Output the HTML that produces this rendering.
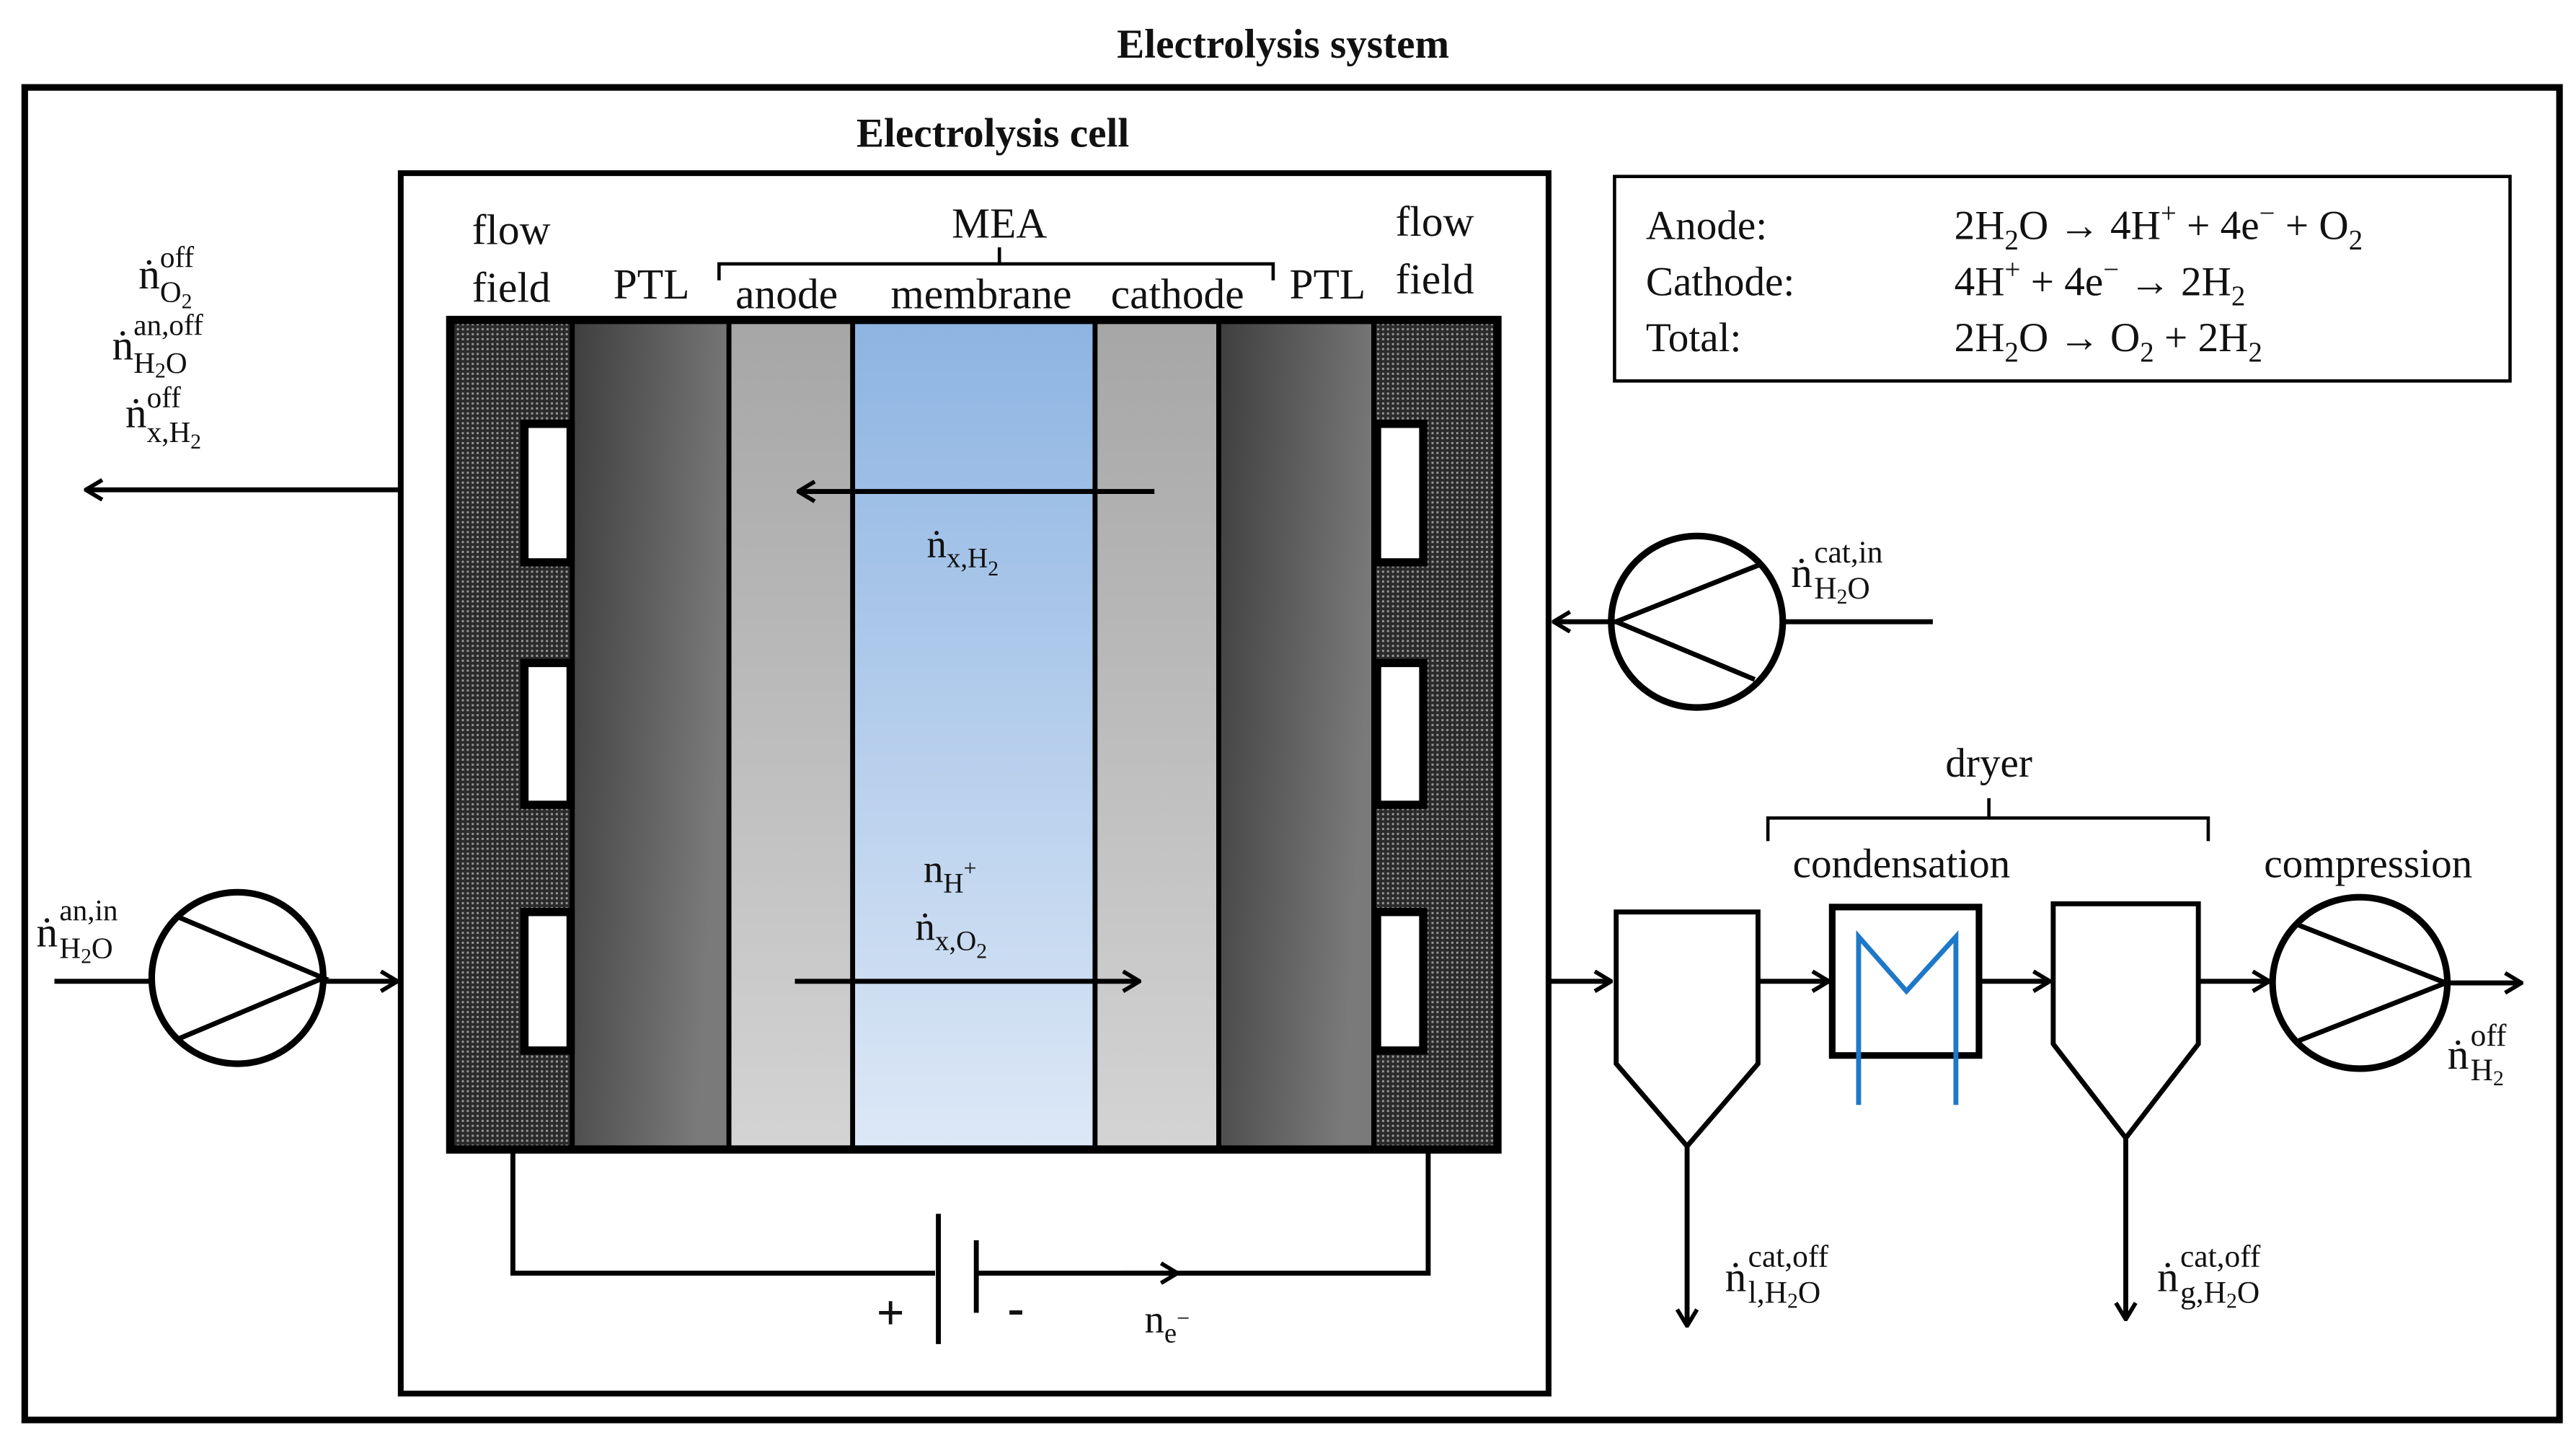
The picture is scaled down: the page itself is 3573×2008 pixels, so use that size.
<!DOCTYPE html>
<html><head><meta charset="utf-8"><style>html,body{margin:0;padding:0;background:#fff}svg{display:block}
text{font-family:"Liberation Serif",serif;fill:#111}</style></head><body>
<svg width="3573" height="2008" viewBox="0 0 1562 878" preserveAspectRatio="none" xmlns="http://www.w3.org/2000/svg">
<defs>
<pattern id="dots" width="3" height="3" patternUnits="userSpaceOnUse"><rect width="3" height="3" fill="#2a2a2a"/><rect x="1" y="1" width="1.3" height="1.3" fill="#999"/></pattern>
<linearGradient id="ptl" x1="0" y1="0" x2="1" y2="0.3"><stop offset="0" stop-color="#3e3e3e"/><stop offset="1" stop-color="#7a7a7a"/></linearGradient>
<linearGradient id="gry" x1="0" y1="0" x2="0" y2="1"><stop offset="0" stop-color="#a6a6a6"/><stop offset="1" stop-color="#d4d4d4"/></linearGradient>
<linearGradient id="blu" x1="0" y1="0" x2="0" y2="1"><stop offset="0" stop-color="#8db4e2"/><stop offset="1" stop-color="#dde8f6"/></linearGradient>
<marker id="ah" markerWidth="12" markerHeight="14" refX="11" refY="7" orient="auto" markerUnits="userSpaceOnUse"><path d="M1,1 L11,7 L1,13" fill="none" stroke="#000" stroke-width="2.5"/></marker>
</defs>
<text x="778" y="35" font-size="25" font-weight="bold" text-anchor="middle">Electrolysis system</text>
<rect x="15" y="53" width="1537" height="808" fill="none" stroke="#000" stroke-width="4"/>
<text x="602" y="89" font-size="25" font-weight="bold" text-anchor="middle">Electrolysis cell</text>
<rect x="243" y="105" width="696" height="740" fill="none" stroke="#000" stroke-width="3.5"/>
<!-- stack -->
<rect x="273" y="193" width="75" height="505" fill="url(#dots)"/>
<rect x="833" y="193" width="75" height="505" fill="url(#dots)"/>
<rect x="347" y="193" width="95" height="505" fill="url(#ptl)"/>
<rect x="739" y="193" width="94" height="505" fill="url(#ptl)"/>
<rect x="442" y="193" width="75" height="505" fill="url(#gry)"/>
<rect x="664" y="193" width="75" height="505" fill="url(#gry)"/>
<rect x="517" y="193" width="147" height="505" fill="url(#blu)"/>
<g fill="#fff" stroke="#000" stroke-width="5">
<rect x="318" y="257" width="28" height="84"/><rect x="318" y="402" width="28" height="86"/><rect x="318" y="553" width="28" height="84"/>
<rect x="835" y="257" width="28" height="84"/><rect x="835" y="402" width="28" height="86"/><rect x="835" y="553" width="28" height="84"/>
</g>
<g stroke="#000" stroke-width="3"><line x1="347" y1="193" x2="347" y2="698"/><line x1="442" y1="193" x2="442" y2="698"/><line x1="517" y1="193" x2="517" y2="698"/><line x1="664" y1="193" x2="664" y2="698"/><line x1="739" y1="193" x2="739" y2="698"/><line x1="833" y1="193" x2="833" y2="698"/></g>
<rect x="273" y="194" width="635" height="503" fill="none" stroke="#000" stroke-width="5"/>
<g font-size="26" text-anchor="middle">
<text x="310" y="148">flow</text><text x="310" y="183">field</text><text x="395" y="181">PTL</text>
<text x="606" y="144">MEA</text>
<text x="477" y="187">anode</text><text x="595" y="187">membrane</text><text x="714" y="187">cathode</text>
<text x="805" y="181">PTL</text><text x="870" y="143">flow</text><text x="870" y="178">field</text>
</g>
<path d="M436,170 L436,160 L606,160 L606,150 M606,160 L772,160 L772,170" fill="none" stroke="#000" stroke-width="2"/>
<!-- internal arrows -->
<line x1="700" y1="298" x2="484" y2="298" stroke="#000" stroke-width="3" marker-end="url(#ah)"/>
<text x="562" y="338" font-size="24">ṅ<tspan font-size="17" dy="6">x,H</tspan><tspan font-size="13" dy="5">2</tspan></text>
<line x1="482" y1="595" x2="691" y2="595" stroke="#000" stroke-width="3" marker-end="url(#ah)"/>
<text x="560" y="535" font-size="24">n<tspan font-size="17" dy="6">H</tspan><tspan font-size="14" dy="-10">+</tspan></text>
<text x="555" y="570" font-size="24">ṅ<tspan font-size="17" dy="6">x,O</tspan><tspan font-size="13" dy="5">2</tspan></text>
<!-- left outflow -->
<line x1="243" y1="297" x2="52" y2="297" stroke="#000" stroke-width="3" marker-end="url(#ah)"/>
<g font-size="26">
<text x="84" y="175">ṅ</text><text x="97" y="162" font-size="18">off</text><text x="97" y="183" font-size="18">O<tspan font-size="13" dy="4">2</tspan></text>
<text x="68" y="218">ṅ</text><text x="81" y="203" font-size="18">an,off</text><text x="81" y="226" font-size="18">H<tspan font-size="13" dy="3">2</tspan><tspan dy="-3">O</tspan></text>
<text x="76" y="259">ṅ</text><text x="89" y="247" font-size="18">off</text><text x="89" y="268" font-size="18">x,H<tspan font-size="13" dy="4">2</tspan></text>
</g>
<!-- left inlet pump -->
<line x1="33" y1="595" x2="92" y2="595" stroke="#000" stroke-width="3"/>
<ellipse cx="144" cy="593" rx="52" ry="52" fill="none" stroke="#000" stroke-width="4"/>
<path d="M108,556 L196,593 L108,630" fill="none" stroke="#000" stroke-width="3"/>
<line x1="196" y1="595" x2="241" y2="595" stroke="#000" stroke-width="3" marker-end="url(#ah)"/>
<text x="22" y="574" font-size="26">ṅ</text><text x="36" y="558" font-size="18">an,in</text><text x="36" y="581" font-size="18">H<tspan font-size="13" dy="3">2</tspan><tspan dy="-3">O</tspan></text>
<!-- circuit -->
<path d="M311,698 L311,772 L567,772 M592,772 L866,772 L866,698" fill="none" stroke="#000" stroke-width="3"/>
<line x1="680" y1="772" x2="714" y2="772" stroke="#000" stroke-width="3" marker-end="url(#ah)"/>
<line x1="569" y1="736" x2="569" y2="815" stroke="#000" stroke-width="3"/>
<line x1="592" y1="752" x2="592" y2="796" stroke="#000" stroke-width="3"/>
<text x="540" y="806" font-size="30" font-weight="bold" text-anchor="middle" font-family="Liberation Sans">+</text>
<text x="616" y="803" font-size="30" font-weight="bold" text-anchor="middle" font-family="Liberation Sans">-</text>
<text x="694" y="808" font-size="24">n<tspan font-size="17" dy="6">e</tspan><tspan font-size="14" dy="-10">−</tspan></text>
<!-- equations -->
<rect x="979" y="107" width="543" height="124" fill="none" stroke="#000" stroke-width="2"/>
<g font-size="25">
<text x="998" y="145">Anode:</text><text x="998" y="179">Cathode:</text><text x="998" y="213">Total:</text>
<text x="1185" y="145">2H<tspan font-size="17" dy="6">2</tspan><tspan dy="-6">O  → 4H</tspan><tspan font-size="17" dy="-10">+</tspan><tspan dy="10"> + 4e</tspan><tspan font-size="17" dy="-10">−</tspan><tspan dy="10"> + O</tspan><tspan font-size="17" dy="6">2</tspan></text>
<text x="1185" y="179">4H<tspan font-size="17" dy="-10">+</tspan><tspan dy="10"> + 4e</tspan><tspan font-size="17" dy="-10">−</tspan><tspan dy="10"> → 2H</tspan><tspan font-size="17" dy="6">2</tspan></text>
<text x="1185" y="213">2H<tspan font-size="17" dy="6">2</tspan><tspan dy="-6">O  → O</tspan><tspan font-size="17" dy="6">2</tspan><tspan dy="-6"> + 2H</tspan><tspan font-size="17" dy="6">2</tspan></text>
</g>
<!-- right pump -->
<ellipse cx="1029" cy="377" rx="52" ry="52" fill="none" stroke="#000" stroke-width="4"/>
<path d="M1068,342 L980,377 L1064,412" fill="none" stroke="#000" stroke-width="3"/>
<line x1="1081" y1="377" x2="1172" y2="377" stroke="#000" stroke-width="3"/>
<line x1="980" y1="377" x2="942" y2="377" stroke="#000" stroke-width="3" marker-end="url(#ah)"/>
<text x="1086" y="356" font-size="26">ṅ</text><text x="1100" y="341" font-size="19">cat,in</text><text x="1100" y="363" font-size="19">H<tspan font-size="13" dy="3">2</tspan><tspan dy="-3">O</tspan></text>
<!-- dryer -->
<g font-size="25" text-anchor="middle"><text x="1206" y="471">dryer</text><text x="1153" y="532">condensation</text><text x="1436" y="532">compression</text></g>
<path d="M1072,510 L1072,496 L1206,496 L1206,484 M1206,496 L1339,496 L1339,510" fill="none" stroke="#000" stroke-width="2"/>
<line x1="939" y1="595" x2="977" y2="595" stroke="#000" stroke-width="3" marker-end="url(#ah)"/>
<path d="M980,553 L1066,553 L1066,645 L1023,695 L980,645 Z" fill="none" stroke="#000" stroke-width="3"/>
<line x1="1023" y1="695" x2="1023" y2="804" stroke="#000" stroke-width="3" marker-end="url(#ah)"/>
<line x1="1066" y1="595" x2="1109" y2="595" stroke="#000" stroke-width="3" marker-end="url(#ah)"/>
<rect x="1111" y="550" width="89" height="90" fill="none" stroke="#000" stroke-width="4"/>
<polyline points="1127,670 1127,568 1156,601 1186,568 1186,670" fill="none" stroke="#1e78c8" stroke-width="3"/>
<line x1="1200" y1="595" x2="1243" y2="595" stroke="#000" stroke-width="3" marker-end="url(#ah)"/>
<path d="M1245,548 L1333,548 L1333,633 L1289,690 L1245,633 Z" fill="none" stroke="#000" stroke-width="3"/>
<line x1="1289" y1="690" x2="1289" y2="800" stroke="#000" stroke-width="3" marker-end="url(#ah)"/>
<line x1="1333" y1="595" x2="1376" y2="595" stroke="#000" stroke-width="3" marker-end="url(#ah)"/>
<ellipse cx="1431" cy="596" rx="53" ry="52" fill="none" stroke="#000" stroke-width="4"/>
<path d="M1394,561 L1483,596 L1394,631" fill="none" stroke="#000" stroke-width="3"/>
<line x1="1483" y1="596" x2="1529" y2="596" stroke="#000" stroke-width="3" marker-end="url(#ah)"/>
<text x="1484" y="648" font-size="26">ṅ</text><text x="1498" y="634" font-size="19">off</text><text x="1498" y="655" font-size="19">H<tspan font-size="13" dy="3">2</tspan></text>
<text x="1046" y="783" font-size="26">ṅ</text><text x="1060" y="768" font-size="19">cat,off</text><text x="1060" y="790" font-size="19">l,H<tspan font-size="13" dy="3">2</tspan><tspan dy="-3">O</tspan></text>
<text x="1308" y="783" font-size="26">ṅ</text><text x="1322" y="768" font-size="19">cat,off</text><text x="1322" y="790" font-size="19">g,H<tspan font-size="13" dy="3">2</tspan><tspan dy="-3">O</tspan></text>
</svg>
</body></html>
